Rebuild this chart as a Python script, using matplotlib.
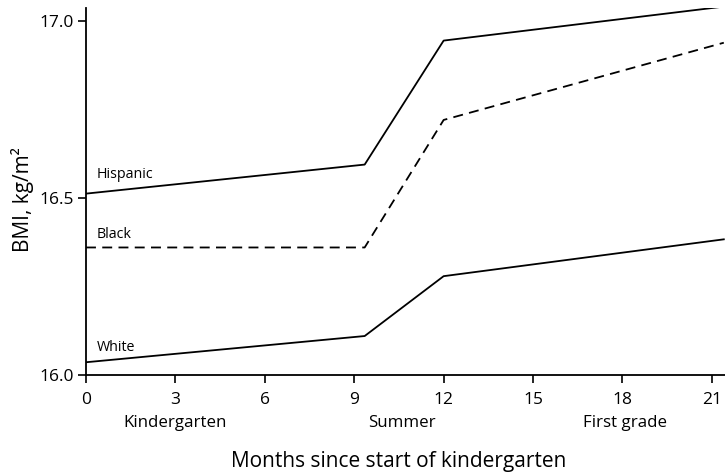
import matplotlib
matplotlib.use("Agg")
import matplotlib.pyplot as plt
import matplotlib.transforms as mtransforms

plt.rcParams['font.family'] = ['Open Sans', 'DejaVu Sans']

months = [0, 9.35, 12, 21.4]
hispanic = [16.512, 16.594, 16.944, 17.04]
black = [16.36, 16.36, 16.72, 16.938]
white = [16.036, 16.11, 16.279, 16.383]

xticks = [0, 3, 6, 9, 12, 15, 18, 21]
yticks = [16.0, 16.5, 17.0]
periods = ["Kindergarten", "Summer", "First grade"]
period_x = [3.0, 10.6, 18.1]

fig = plt.figure(figsize=(7.25, 4.74), dpi=100)
ax = fig.add_axes([86/725, 1-375/474, (725-86)/725, (375-8)/474])

ax.plot(months, hispanic, color='black', lw=1.3)
ax.plot(months, black, color='black', lw=1.3, dashes=(5.5, 3.5))
ax.plot(months, white, color='black', lw=1.3)

ax.text(0.35, 16.565, "Hispanic", fontsize=10.3, va='center', ha='left')
ax.text(0.35, 16.396, "Black", fontsize=10.3, va='center', ha='left')
ax.text(0.35, 16.079, "White", fontsize=10.3, va='center', ha='left')

ax.set_xlim(0, 21.44)
ax.set_ylim(16.0, 17.036)
ax.set_xticks(xticks)
ax.set_xticklabels([str(t) for t in xticks], fontsize=12.5)
ax.set_yticks(yticks)
ax.set_yticklabels([f"{t:.1f}" for t in yticks], fontsize=12.5)
ax.tick_params(direction='out', length=6, width=1.2)
ax.tick_params(axis='x', pad=6)
ax.tick_params(axis='y', pad=3)
for s in ['top', 'right']:
    ax.spines[s].set_visible(False)
for s in ['left', 'bottom']:
    ax.spines[s].set_linewidth(1.3)

trans = mtransforms.blended_transform_factory(ax.transData, fig.transFigure)
for name, px in zip(periods, period_x):
    ax.text(px, 1-423/474, name, fontsize=12.2, ha='center', va='center', transform=trans)

fig.text(399/725, 1-462/474, "Months since start of kindergarten", fontsize=15, ha='center', va='center')
fig.text(22/725, 1-200/474, "BMI, kg/m²", fontsize=15, ha='center', va='center', rotation=90)

fig.savefig("out.png", dpi=100)
